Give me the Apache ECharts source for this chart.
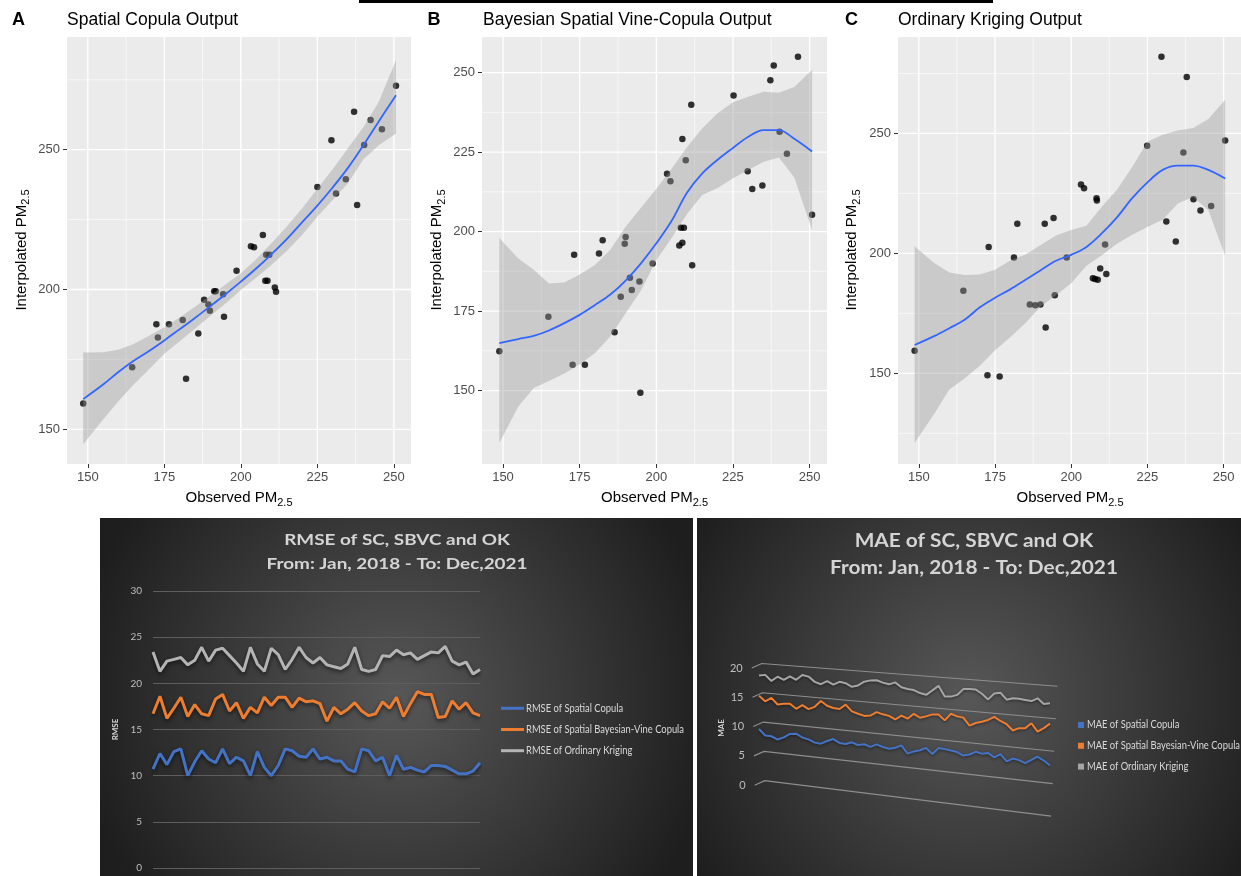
<!DOCTYPE html>
<html><head><meta charset="utf-8">
<script src="https://cdn.jsdelivr.net/npm/echarts@6/dist/echarts.min.js"></script>
<style>html,body{margin:0;padding:0;background:#fff}#c{width:1241px;height:876px}</style>
</head><body><div id="c"></div>
<script>
// ---------- Panel A: Spatial Copula ----------
const obsA = [250.7,237.0,229.6,242.4,246.1,240.3,225.0,234.3,231.1,238.0,207.2,203.3,204.3,208.3,209.3,198.6,208.0,208.7,211.1,211.5,191.3,191.8,194.2,188.0,189.4,189.9,194.5,181.0,176.5,172.4,172.9,186.1,164.5,182.1,148.5];
const interpA = [272.9,263.6,253.4,260.6,257.3,251.7,236.7,239.4,234.3,230.2,219.5,215.5,215.1,212.4,212.4,206.7,203.1,203.1,200.7,199.2,199.4,199.4,198.3,196.3,194.6,192.4,190.3,189.1,187.6,187.6,182.8,184.3,172.2,168.1,159.2];
const fitXA = [148.5,155,160,165,170,175,180,185,190,195,200,205,210,215,220,225,230,235,240,245,250.7];
const fitA  = [160.8,166,170.5,174.5,178,181.8,185.8,189.8,194,198.3,202.8,207.5,212.6,218,224,230,236.5,243.5,251.5,260,269.5];
const loA   = [144.7,153.5,160,166,171.5,177,181.5,186,190.5,195,199.8,204.2,208.8,213.8,219.5,226,232,238,246.5,251.5,255.8];
const hiA   = [177.5,177.6,178.5,180.5,183.5,186.5,190,193.8,197.8,201.8,205.8,210.8,216.5,222.5,229,236,243,250.5,258,267,282];

// ---------- Panel B: Bayesian Spatial Vine-Copula ----------
const obsB = [246.2,238.3,237.2,225.2,211.4,240.2,242.6,208.5,209.6,229.8,231.3,234.6,203.5,204.6,250.8,208.0,209.0,208.5,207.5,190.0,189.7,182.5,181.3,173.2,198.8,211.7,191.4,194.5,192.0,188.4,164.8,186.4,148.8,172.7,176.7,194.8];
const interpB = [255.0,252.2,247.6,242.8,239.9,231.4,224.5,229.1,222.4,219.0,213.4,214.5,218.2,215.8,205.3,201.2,201.2,196.5,195.6,198.3,196.2,197.3,193.1,192.7,190.0,189.4,185.5,184.3,181.6,179.5,173.2,168.3,162.4,158.1,158.1,149.3];
const fitXB = [148.8,155,160,165,170,175,180,185,190,195,200,205,210,215,220,225,230,235,240,245,250.8];
const fitB  = [164.9,166.2,167.2,168.9,171.2,173.8,176.9,180.2,184.6,190.0,196.3,203.4,212.2,218.3,222.6,226.3,229.8,231.9,231.9,229.2,225.2];
const loB   = [133.5,145,150.8,153,155.4,158.2,161.8,167,174.3,181.5,191,198,205.5,211.5,213.7,216.8,219.4,222,223.3,217,200.5];
const hiB   = [198,191.5,188,183.7,184,186.5,189.5,194.3,201.5,207.5,213.5,219.8,226.5,232.5,237.2,240.7,242.4,244,243.7,245.5,250.8];

// ---------- Panel C: Ordinary Kriging ----------
const obsC = [229.6,237.9,250.5,224.9,236.8,240.1,242.4,245.9,231.2,234.3,203.2,204.2,208.3,208.4,194.2,191.3,182.3,172.9,211.1,181.2,198.5,209.5,211.5,207.1,207.8,208.7,164.6,194.6,186.4,188.2,189.9,191.6,148.6,172.5,176.5];
const interpC = [282.0,273.5,247.1,244.9,242.1,222.6,217.9,219.8,213.3,204.9,228.7,227.2,223.0,222.0,214.7,212.4,212.4,202.7,203.7,198.3,198.3,193.7,191.4,189.6,189.3,189.0,184.4,182.5,178.7,178.4,178.7,169.1,159.4,149.2,148.7];
const fitXC = [148.6,155,160,165,170,175,180,185,190,195,200,205,210,215,220,225,230,235,240,245,250.5];
const fitC  = [161.8,165.5,168.8,172.3,177.5,181.5,185,189,193,196.9,199.4,202.7,208.3,215,223,229.6,234.8,236.6,236.6,234.8,231.2];
const loC   = [121,133,143.3,147.8,153.2,159.6,165,171,178,182.5,187.5,194.8,199.2,204,207.8,211,214,220.8,223.5,218,199];
const hiC   = [203,196,192,191,191.2,193.2,197,199.5,203.5,207.5,209.7,211.5,219.4,226.5,236,246.5,249.4,251.2,252.3,256,264];

const xTicks = [150,175,200,225,250];
const xMinor = [162.5,187.5,212.5,237.5];

// ---------- Bottom charts ----------
const months = ['Jan-18','Feb-18','Mar-18','Apr-18','May-18','Jun-18','Jul-18','Aug-18','Sep-18','Oct-18','Nov-18','Dec-18',
'Jan-19','Feb-19','Mar-19','Apr-19','May-19','Jun-19','Jul-19','Aug-19','Sep-19','Oct-19','Nov-19','Dec-19',
'Jan-20','Feb-20','Mar-20','Apr-20','May-20','Jun-20','Jul-20','Aug-20','Sep-20','Oct-20','Nov-20','Dec-20',
'Jan-21','Feb-21','Mar-21','Apr-21','May-21','Jun-21','Jul-21','Aug-21','Sep-21','Oct-21','Nov-21','Dec-21'];
const rmseSC   = [10.7,12.4,11.2,12.6,12.9,10.0,11.5,12.7,11.8,11.4,12.9,11.3,12.0,11.6,10.0,12.6,10.9,10.0,11.1,12.9,12.7,12.1,12.0,12.9,11.8,12.0,11.6,11.6,10.7,10.4,12.9,12.7,11.6,12.0,10.0,12.2,10.7,10.9,10.6,10.4,11.1,11.1,11.0,10.6,10.2,10.2,10.5,11.4];
const rmseSBVC = [16.7,18.6,16.2,17.3,18.5,16.4,17.7,16.7,16.5,18.3,18.8,17.0,17.9,16.2,17.4,16.8,18.5,17.6,18.5,18.5,17.4,18.4,18.0,18.1,17.8,15.9,17.4,16.7,17.2,17.9,17.0,16.5,16.7,18.0,17.3,18.5,16.4,17.8,19.1,18.8,18.8,16.3,16.4,18.1,17.2,17.9,16.8,16.5];
const rmseOK   = [23.4,21.3,22.4,22.6,22.8,22.0,22.5,23.9,22.4,23.6,23.8,23.0,22.2,21.3,23.9,22.1,21.3,23.8,23.1,21.5,22.6,23.9,22.8,22.2,22.8,22.0,21.8,21.6,22.1,23.9,21.5,21.3,21.5,23.0,22.9,23.6,23.1,23.3,22.6,23.0,23.4,23.3,24.0,22.4,22.0,22.3,21.0,21.5];
const maeSC   = [8.74,7.74,7.72,7.27,7.75,8.45,8.6,8.06,7.86,7.42,7.35,7.91,8.34,7.81,7.73,8.12,7.78,8.02,7.69,8.2,7.89,7.72,7.97,8.47,7.24,7.7,7.99,8.47,7.59,8.65,8.59,8.46,8.33,7.87,8.15,8.67,8.48,8.7,8.09,8.7,7.67,8.22,8.08,7.72,8.31,8.9,8.41,7.75];
const maeSBVC = [14.45,13.59,14.26,13.24,13.45,13.54,12.8,13.51,12.93,13.42,14.48,13.8,13.51,13.43,14.25,13.23,12.94,12.68,12.83,13.49,13.22,13.06,12.57,13.29,12.89,13.77,13.23,13.54,13.95,14.03,13.17,14.32,13.99,13.88,12.71,13.22,13.5,13.87,14.43,13.89,13.47,12.59,13.04,13.13,13.97,12.78,13.4,14.18];
const maeOK   = [17.9,18.1,17.15,17.96,17.5,18.2,17.7,18.6,18.4,17.6,17.3,17.9,17.4,17.95,17.8,17.3,17.6,18.3,18.6,18.7,18.4,18.2,18.6,17.9,17.7,17.6,17.2,17.0,17.8,18.6,17.0,17.05,17.4,18.4,18.5,18.5,17.9,17.1,18.1,18.3,17.3,17.6,17.6,17.5,17.4,17.9,17.1,17.3];
const maeTicks = [0,5,10,15,20];
const rmseNames = ['RMSE of Spatial Copula','RMSE of Spatial Bayesian-Vine Copula','RMSE of Ordinary Kriging'];
const maeNames = ['MAE of Spatial Copula','MAE of Spatial Bayesian-Vine Copula','MAE of Ordinary Kriging'];

// ---------- build ----------
const FONT = "'Liberation Sans', Arial, sans-serif";
const XFONT = "'Lato', 'Open Sans', sans-serif";
const TFONT = "'Lato', 'Open Sans', sans-serif";
const zip = (a, b) => a.map((v, i) => [v, b[i]]);
const mctx = document.createElement('canvas').getContext('2d');
function fitScale(text, font, target) { mctx.font = font; return target / mctx.measureText(text).width; }

const panels = [
  {obs: obsA, interp: interpA, fx: fitXA, fy: fitA, lo: loA, hi: hiA, xr: [143.2, 255.6], yr: [137.6, 290.3],
   yMajor: [150,200,250], yMinor: [175,225,275], grid: {left: 67, top: 37, width: 344, height: 427}},
  {obs: obsB, interp: interpB, fx: fitXB, fy: fitB, lo: loB, hi: hiB, xr: [143.15, 255.67], yr: [126.9, 261.2],
   yMajor: [150,175,200,225,250], yMinor: [137.5,162.5,187.5,212.5,237.5], grid: {left: 482, top: 37, width: 345, height: 427}},
  {obs: obsC, interp: interpC, fx: fitXC, fy: fitC, lo: loC, hi: hiC, xr: [143.15, 255.7], yr: [112.2, 290.2],
   yMajor: [150,200,250], yMinor: [125,175,225,275], grid: {left: 898, top: 37, width: 345, height: 427}}
];

const grids = [], xAxes = [], yAxes = [], series = [];
panels.forEach((p, k) => {
  grids.push(Object.assign({show: true, backgroundColor: '#EBEBEB', borderWidth: 0}, p.grid));
  const axBase = {
    axisLine: {show: false}, splitLine: {show: false},
    axisTick: {show: true, length: 4, lineStyle: {color: '#333', width: 1}},
    axisLabel: {color: '#4D4D4D', fontSize: 13, fontFamily: FONT, margin: 7}
  };
  xAxes.push(Object.assign({}, axBase, {gridIndex: k, type: 'value', min: p.xr[0], max: p.xr[1],
    axisTick: Object.assign({}, axBase.axisTick, {customValues: xTicks}),
    axisLabel: Object.assign({}, axBase.axisLabel, {customValues: xTicks})}));
  yAxes.push(Object.assign({}, axBase, {gridIndex: k, type: 'value', min: p.yr[0], max: p.yr[1],
    axisTick: Object.assign({}, axBase.axisTick, {customValues: p.yMajor}),
    axisLabel: Object.assign({}, axBase.axisLabel, {customValues: p.yMajor})}));
  const gl = [];
  xTicks.forEach(v => gl.push([v, 0])); xMinor.forEach(v => gl.push([v, 1]));
  p.yMajor.forEach(v => gl.push([v, 2])); p.yMinor.forEach(v => gl.push([v, 3]));
  const xMid = (p.xr[0] + p.xr[1]) / 2, yMid = (p.yr[0] + p.yr[1]) / 2;
  series.push({type: 'custom', xAxisIndex: k, yAxisIndex: k, z: 1, silent: true,
    data: gl.map(() => [xMid, yMid]),
    renderItem: (params, api) => {
      const g = gl[params.dataIndex], cs = params.coordSys;
      let shape;
      if (g[1] < 2) { const x = api.coord([g[0], yMid])[0]; shape = {x1: x, y1: cs.y, x2: x, y2: cs.y + cs.height}; }
      else { const y = api.coord([xMid, g[0]])[1]; shape = {x1: cs.x, y1: y, x2: cs.x + cs.width, y2: y}; }
      return {type: 'line', shape: shape, style: {stroke: '#FFFFFF', lineWidth: g[1] % 2 === 0 ? 1.3 : 0.6}};
    }});
  series.push({type: 'scatter', xAxisIndex: k, yAxisIndex: k, z: 2, data: zip(p.obs, p.interp),
    symbolSize: 6.5, itemStyle: {color: '#000'}});
  series.push({type: 'custom', xAxisIndex: k, yAxisIndex: k, z: 3, silent: true, data: [[p.fx[0], p.lo[0]]],
    renderItem: (params, api) => {
      const pts = [];
      p.fx.forEach((x, i) => pts.push(api.coord([x, p.hi[i]])));
      for (let i = p.fx.length - 1; i >= 0; i--) pts.push(api.coord([p.fx[i], p.lo[i]]));
      return {type: 'polygon', shape: {points: pts}, style: {fill: 'rgba(153,153,153,0.4)'}};
    }});
  series.push({type: 'line', xAxisIndex: k, yAxisIndex: k, z: 4, data: zip(p.fx, p.fy), smooth: 0.35,
    showSymbol: false, lineStyle: {color: '#3366FF', width: 1.8}});
});

// RMSE chart (grid 3)
grids.push({left: 153, right: 761, top: 591, bottom: 8});
xAxes.push({gridIndex: 3, type: 'value', min: 0, max: 47, show: false});
yAxes.push({gridIndex: 3, type: 'value', min: 0, max: 30, interval: 5,
  axisLine: {show: false}, axisTick: {show: false},
  axisLabel: {color: '#BFBFBF', fontSize: 10, fontFamily: XFONT, margin: 11},
  splitLine: {lineStyle: {color: '#5E5E5E', width: 1}},
  name: 'RMSE', nameLocation: 'middle', nameRotate: 90, nameGap: 34,
  nameTextStyle: {color: '#D9D9D9', fontSize: 8, fontWeight: 'bold', fontFamily: XFONT}});
const rmseColors = ['#4472C4', '#ED7D31', '#B4B4B4'];
[rmseSC, rmseSBVC, rmseOK].forEach((arr, j) => {
  series.push({type: 'line', name: rmseNames[j], xAxisIndex: 3, yAxisIndex: 3, data: arr.map((v, i) => [i, v]),
    showSymbol: false, itemStyle: {color: rmseColors[j]},
    lineStyle: {color: rmseColors[j], width: 3, shadowBlur: 4, shadowColor: 'rgba(0,0,0,0.6)', shadowOffsetY: 2}});
});

// MAE chart (grid 4) with 3-D perspective floor lines
const persp = (v, i) => { const t = i / 47; return v * (1 + 0.1166 * t) - 6.17 * t; };
grids.push({left: 759, right: 191, top: 634.1, bottom: 37.65});
xAxes.push({gridIndex: 4, type: 'value', min: 0, max: 47, show: false});
yAxes.push({gridIndex: 4, type: 'value', min: -10, max: 25, show: false});
series.push({type: 'custom', xAxisIndex: 4, yAxisIndex: 4, z: 1, silent: true, clip: false,
  data: maeTicks.map(g => [0, g]),
  renderItem: (params, api) => {
    const g = maeTicks[params.dataIndex];
    const f = (20 - g) / 20;
    const s = 0.44 + f * 0.48, e = 48.2 - f * 1.03;
    const p1 = api.coord([s, persp(g, s)]), p2 = api.coord([e, persp(g, e)]);
    const p0 = [p1[0] - 10, p1[1] + 4.5];
    return {type: 'group', children: [
      {type: 'polyline', shape: {points: [p0, p1, p2]}, style: {stroke: '#8E8E8E', lineWidth: 1.2, fill: null}},
      {type: 'text', x: p0[0] - 9, y: p0[1], style: {text: String(g), fill: '#BFBFBF', fontSize: 11, fontFamily: XFONT,
        align: 'right', verticalAlign: 'middle', textAlign: 'right', textVerticalAlign: 'middle'}}
    ]};
  }});
const maeColors = ['#4472C4', '#ED7D31', '#A5A5A5'];
[maeSC, maeSBVC, maeOK].forEach((arr, j) => {
  series.push({type: 'line', name: maeNames[j], xAxisIndex: 4, yAxisIndex: 4, z: 3,
    data: arr.map((v, i) => [i, persp(v, i)]),
    showSymbol: false, itemStyle: {color: maeColors[j]},
    lineStyle: {color: maeColors[j], width: 2, shadowBlur: 3, shadowColor: 'rgba(0,0,0,0.5)', shadowOffsetY: 1}});
});

// ---------- graphics ----------
function rich(m, s, fm, fsz) {
  return {text: '{m|' + m + '}{s|' + s + '}', rich: {
    m: {fontSize: fm, fontFamily: FONT, fill: '#000', color: '#000', lineHeight: 20},
    s: {fontSize: fsz, fontFamily: FONT, fill: '#000', color: '#000', lineHeight: 11, verticalAlign: 'bottom'}}};
}
const C = {align: 'center', verticalAlign: 'middle', textAlign: 'center', textVerticalAlign: 'middle'};
const L = {align: 'left', verticalAlign: 'middle', textAlign: 'left', textVerticalAlign: 'middle'};
const gfx = [];
const bg = (x, w) => ({type: 'rect', z: -10, shape: {x: x, y: 518, width: w, height: 358},
  style: {fill: new echarts.graphic.RadialGradient(0.5, 0.5, 0.9, [{offset: 0, color: '#575757'}, {offset: 1, color: '#1E1E1E'}])}});
gfx.push(bg(100, 593));
gfx.push(bg(697, 544));
gfx.push({type: 'rect', z: 50, shape: {x: 359, y: 0, width: 634, height: 3}, style: {fill: '#000'}});
[['A', 18.5], ['B', 434], ['C', 851.5]].forEach(l => gfx.push({type: 'text', z: 50, x: l[1], y: 20,
  style: Object.assign({text: l[0], fontSize: 18, fontWeight: 'bold', fontFamily: FONT, fill: '#000'}, C)}));
[['Spatial Copula Output', 67], ['Bayesian Spatial Vine-Copula Output', 483], ['Ordinary Kriging Output', 898]].forEach(t =>
  gfx.push({type: 'text', z: 50, x: t[1], y: 20, style: Object.assign({text: t[0], fontSize: 17.5, fontFamily: FONT, fill: '#000'}, L)}));
[239, 654.5, 1070].forEach(cx => gfx.push({type: 'text', z: 50, x: cx, y: 498,
  style: Object.assign(rich('Observed PM', '2.5', 15, 11), C)}));
[21.5, 437, 852].forEach(cx => gfx.push({type: 'text', z: 50, x: cx, y: 250, rotation: Math.PI / 2,
  style: Object.assign(rich('Interpolated PM', '2.5', 15, 11), C)}));

// dark-panel titles (stretched like the original Calibri rendering)
function btitle(l1, l2, cx, y1, y2, fs, w2) {
  const font = 'bold ' + fs + 'px Lato';
  const sx = fitScale(l2, font, w2);
  [[l1, y1], [l2, y2]].forEach(r => gfx.push({type: 'text', z: 50, x: cx, y: r[1], scaleX: sx,
    style: Object.assign({text: r[0], fontSize: fs, fontWeight: 'bold', fontFamily: TFONT, fill: '#D4D4D4'}, C)}));
}
btitle('RMSE of SC, SBVC and OK', 'From: Jan, 2018 - To: Dec,2021', 397, 540, 564, 16, 261);
btitle('MAE of SC, SBVC and OK', 'From: Jan, 2018 - To: Dec,2021', 974, 541.5, 568.5, 18, 288);
gfx.push({type: 'text', z: 50, x: 721, y: 728, rotation: Math.PI / 2,
  style: Object.assign({text: 'MAE', fontSize: 8, fontWeight: 'bold', fontFamily: XFONT, fill: '#D9D9D9'}, C)});

// legends
const legFs = 10.5;
const sxR = fitScale(rmseNames[1], legFs + 'px Lato', 158);
rmseNames.forEach((n, j) => {
  const y = 708.3 + j * 21.2;
  gfx.push({type: 'rect', z: 50, shape: {x: 501, y: y - 1.5, width: 23, height: 3}, style: {fill: rmseColors[j]}});
  gfx.push({type: 'text', z: 50, x: 526, y: y, scaleX: sxR,
    style: Object.assign({text: n, fontSize: legFs, fontFamily: XFONT, fill: '#D9D9D9'}, L)});
});
const sxM = fitScale(maeNames[1], legFs + 'px Lato', 153);
maeNames.forEach((n, j) => {
  const y = 725 + j * 20.8;
  gfx.push({type: 'rect', z: 50, shape: {x: 1078, y: y - 3, width: 6, height: 6}, style: {fill: maeColors[j]}});
  gfx.push({type: 'text', z: 50, x: 1087, y: y, scaleX: sxM,
    style: Object.assign({text: n, fontSize: legFs, fontFamily: XFONT, fill: '#D9D9D9'}, L)});
});

const option = {
  animation: false,
  backgroundColor: '#FFFFFF',
  grid: grids, xAxis: xAxes, yAxis: yAxes, series: series,
  graphic: {elements: gfx}
};
const chart = echarts.init(document.getElementById('c'), null, {renderer: 'canvas', width: 1241, height: 876});
chart.setOption(option);
</script></body></html>
